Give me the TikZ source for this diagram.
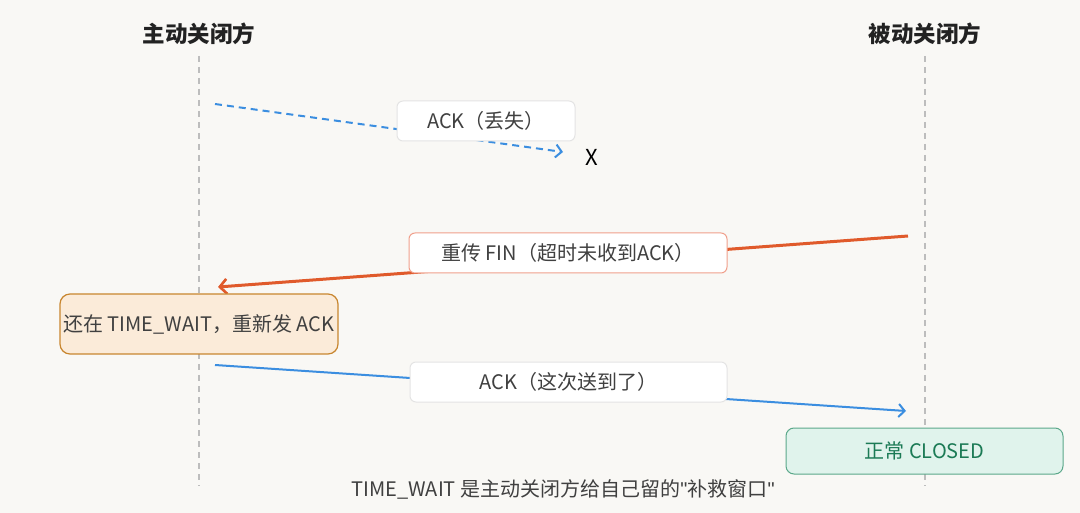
\documentclass[tikz,border=0pt]{standalone}
\usepackage{fontspec}
\setmainfont{Noto Sans CJK SC}
\newfontfamily\quotefont{Liberation Sans}
\usetikzlibrary{arrows.meta}
\definecolor{bgc}{HTML}{F9F8F5}
\definecolor{lifec}{HTML}{BDBDBD}
\definecolor{bluec}{HTML}{3B8EE0}
\definecolor{orangec}{HTML}{E05A2B}
\definecolor{orangebd}{HTML}{F0A08C}
\definecolor{labelbd}{HTML}{E4E4E4}
\definecolor{txtc}{HTML}{404040}
\definecolor{headc}{HTML}{222222}
\definecolor{waitfill}{HTML}{FBEBD9}
\definecolor{waitbd}{HTML}{C8862F}
\definecolor{closefill}{HTML}{E0F3EC}
\definecolor{closebd}{HTML}{5BA88A}
\definecolor{closetxt}{HTML}{1B7A55}
\tikzset{
  lifeline/.style={draw=lifec, line width=2pt, dash pattern=on 6pt off 5pt},
  head/.style={font=\fontsize{22.5}{27}\selectfont\bfseries, text=headc, inner sep=0pt},
  msglabel/.style={draw=labelbd, fill=white, rounded corners=6pt, line width=1pt, text=txtc,
    font=\fontsize{20}{24}\selectfont, inner sep=0pt, minimum height=40pt},
  tip/.style={-{Straight Barb[length=6pt,width=13pt,line width=2pt]}},
}
\begin{document}
\begin{tikzpicture}[x=1pt,y=-1pt]
\fill[bgc] (0,0) rectangle (1080,513);
\useasboundingbox (0,0) rectangle (1080,513);
% headers
\node[head] (hA) at (199,34) {主动关闭方};
\node[head] (hB) at (925,34) {被动关闭方};
% lifelines
\coordinate (aTop) at (199,56);
\coordinate (aBot) at (199,486);
\coordinate (bTop) at (925,56);
\coordinate (bBot) at (925,486);
\draw[lifeline] (aTop) -- (aBot);
\draw[lifeline] (bTop) -- (bBot);
% arrow 1 (lost ACK)
\coordinate (m1s) at (215,104);
\coordinate (m1e) at (563,152);
\draw[bluec, line width=2pt, dash pattern=on 7pt off 5pt, tip] (m1s) -- (m1e);
\node[msglabel, minimum width=178pt] (l1) at (486,121) {ACK（丢失）};
\node[font=\fontsize{22}{26}\selectfont, text=black, inner sep=0pt] (xx) at (592,157) {X};
% arrow 2 (retransmit FIN)
\coordinate (m2s) at (908,236);
\coordinate (m2e) at (218,287);
\draw[orangec, line width=3pt, -{Straight Barb[length=7pt,width=15pt,line width=2.6pt]}] (m2s) -- (m2e);
\node[msglabel, draw=orangebd, minimum width=318pt] (l2) at (568,253) {重传 FIN（超时未收到ACK）};
% TIME_WAIT box
\node[draw=waitbd, fill=waitfill, rounded corners=10pt, line width=1.2pt, text=txtc,
  font=\fontsize{20}{24}\selectfont, inner sep=0pt, minimum width=278pt, minimum height=60pt]
  (tw) at (199,324) {还在 TIME\_WAIT，重新发 ACK};
% arrow 3 (ACK delivered)
\coordinate (m3s) at (215,365);
\coordinate (m3e) at (906,411);
\draw[bluec, line width=2pt, tip] (m3s) -- (m3e);
\node[msglabel, minimum width=317pt] (l3) at (568.5,382) {ACK（这次送到了）};
% CLOSED box
\node[draw=closebd, fill=closefill, rounded corners=8pt, line width=1pt, text=closetxt,
  font=\fontsize{20}{24}\selectfont, inner sep=0pt, minimum width=277pt, minimum height=46pt]
  (cl) at (924.5,451) {正常 CLOSED};
% caption
\node[text=txtc, font=\fontsize{20}{24}\selectfont, inner sep=0pt] (cap) at (563,489)
  {TIME\_WAIT 是主动关闭方给自己留的{\quotefont"}补救窗口{\quotefont"}};
\end{tikzpicture}
\end{document}
